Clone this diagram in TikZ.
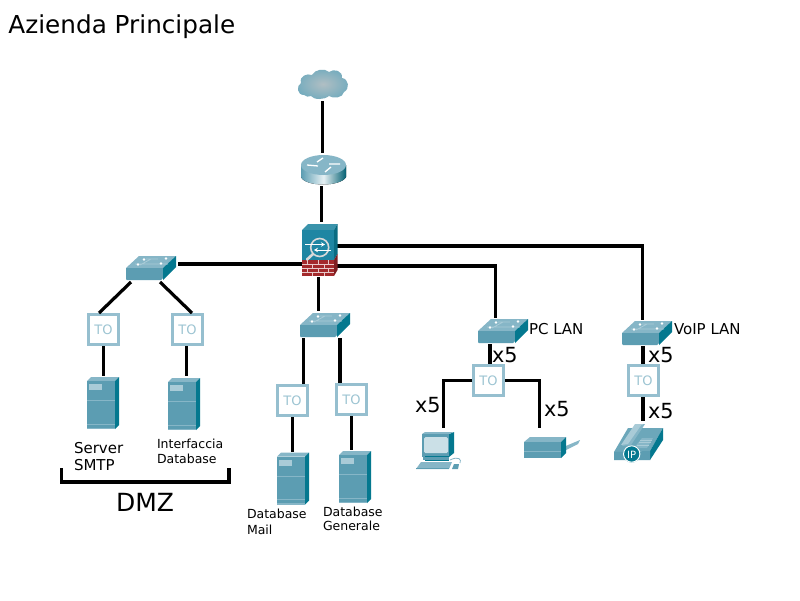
\documentclass[tikz,border=0pt]{standalone}
\usepackage{fontspec}
\setmainfont{DejaVu Sans}
\usetikzlibrary{arrows.meta}
\definecolor{tofr}{HTML}{96BFCF}
\definecolor{tofg}{HTML}{9CC4D2}
\definecolor{front}{HTML}{5C9DB2}
\definecolor{topc}{HTML}{86B6C7}
\definecolor{sidec}{HTML}{04788F}
\definecolor{lite}{HTML}{A9CBD7}
\definecolor{fwfront}{HTML}{1F86A3}
\definecolor{fwtop}{HTML}{3A93AB}
\definecolor{fwside}{HTML}{0A6C82}
\definecolor{brick}{HTML}{A32A2C}
\definecolor{brickd}{HTML}{7E1F22}
\tikzset{
  x=1pt,y=-1pt,
  wire/.style={line width=3.2pt,black},
  slot/.style={inner sep=0pt,outer sep=0pt,draw=none,minimum width=#1},
  tobox/.style={draw=tofr,line width=3pt,fill=white,minimum width=30pt,minimum height=30pt,inner sep=0pt,outer sep=1.5pt,text=tofg,font=\fontsize{13}{14}\selectfont},
  lab/.style={inner sep=0pt,outer sep=0pt,anchor=base west,text=black},
  small/.style={lab,font=\fontsize{12.5}{14}\selectfont},
  mid/.style={lab,font=\fontsize{15}{16}\selectfont},
  big/.style={lab,font=\fontsize{20.8}{22}\selectfont},
  switchicon/.pic={
    \fill[topc] (0,12) -- (13,0) -- (50,0) -- (37,12) -- cycle;
    \fill[front] (0,12) -- (37,12) -- (37,22) -- (35,24) -- (1,24) -- (0,23) -- cycle;
    \fill[sidec] (37,12) -- (50,0) -- (50,11) -- (37,24) -- cycle;
    \draw[lite,line width=.8pt] (9,8) -- (42,8) (20,3) -- (32,3) (14,9) -- (25,3);
    \fill[white] (18,3.5) circle (1.4) (40,2.5) circle (1.4) (12,8.5) circle (1.4) (35,7.5) circle (1.4);
  },
  servericon/.pic={
    \fill[topc] (0,4) -- (4,0) -- (32,0) -- (28,4) -- cycle;
    \fill[front] (0,4) rectangle (28,52);
    \fill[sidec] (28,4) -- (32,0) -- (32,48) -- (28,52) -- cycle;
    \fill[lite] (2,7) rectangle (15,13);
    \fill[topc] (0,23) rectangle (28,24.2);
    \fill[topc] (0,46.5) rectangle (28,47.5);
    \fill[topc] (0,50.5) rectangle (28,52);
  },
  pcicon/.pic={
    \fill[sidec] (33,2) -- (38,0) -- (38,21) -- (33,25) -- cycle;
    \fill[topc] (6,2) -- (9,0) -- (38,0) -- (33,2) -- cycle;
    \fill[front] (6,2) rectangle (33,25);
    \fill[fill=lite!60!white,rounded corners=1.5pt] (8,5) rectangle (32,21);
    \fill[sidec] (9,24) rectangle (33,29);
    \fill[front] (7,25) rectangle (33,28);
    \fill[topc] (0,37) -- (5,30) -- (36,30) -- (33,37) -- cycle;
    \fill[front] (0,36) rectangle (33,37);
    \draw[topc,line width=.8pt] (34,28) .. controls (42,24) and (46,27) .. (44,31);
    \fill[front] (36,37) -- (38,32) -- (43,32) -- (42,37) -- cycle;
  },
  deviceicon/.pic={
    \fill[topc] (37,11) -- (56,3) -- (54,7) -- (38,15) -- cycle;
    \fill[topc] (0,5) -- (6,0) -- (42,0) -- (37,5) -- cycle;
    \fill[front] (0,5) rectangle (37,21);
    \fill[topc] (0,14) rectangle (37,15);
    \fill[sidec] (37,5) -- (42,0) -- (42,16) -- (37,21) -- cycle;
  },
  phoneicon/.pic={
    \fill[front!90!white] (0,28) -- (14,4) -- (49,4) -- (36,27) -- cycle;
    \fill[sidec] (36,27) -- (49,4) -- (49,16) -- (36,36) -- cycle;
    \fill[front] (0,28) -- (36,27) -- (36,36) -- (0,36) -- cycle;
    \fill[topc] (8,22) -- (22,1) -- (31,0) -- (17,21) -- cycle;
    \fill[lite] (7,21) -- (21,0) -- (28,0) -- (14,20) -- cycle;
    \fill[topc] (20,24) -- (28,14) -- (39,14) -- (33,24) -- cycle;
    \draw[lite,line width=.4pt] (23,21) -- (35,21) (25,18) -- (37,18) (26,16) -- (38,16);
    \fill[sidec] (17.7,30) circle (8.6);
    \draw[white,line width=1pt] (17.7,30) circle (8.2);
    \node[inner sep=0pt,text=white,font=\fontsize{10}{10}\selectfont] (iptext) at (17.7,30.5) {IP};
  },
}
\begin{document}
\begin{tikzpicture}
\useasboundingbox (0,0) rectangle (800,600);
\fill[white] (0,0) rectangle (800,600);

% anchor slots for the devices
\node[slot=50pt,minimum height=30pt] (cloud) at (323,84) {};
\node[slot=45pt,minimum height=30pt] (router) at (323,170) {};
\node[slot=36pt,minimum height=52pt] (fw) at (320,250) {};
\node[slot=50pt,minimum height=24pt] (swa) at (151,268) {};
\node[slot=50pt,minimum height=24pt] (swb) at (325,325) {};
\node[slot=50pt,minimum height=24pt] (swc) at (503,331) {};
\node[slot=50pt,minimum height=24pt] (swd) at (647,333) {};
\node[slot=32pt,minimum height=52pt] (srva) at (103,403) {};
\node[slot=32pt,minimum height=52pt] (srvb) at (184,404) {};
\node[slot=32pt,minimum height=52pt] (srvc) at (293,478.5) {};
\node[slot=32pt,minimum height=52pt] (srvd) at (355,477) {};
\node[slot=45pt,minimum height=37pt] (pc) at (438.5,450.5) {};
\node[slot=56pt,minimum height=22pt] (dev) at (552,448) {};
\node[slot=49pt,minimum height=40pt] (phone) at (638.5,444) {};

\node[tobox] (toa) at (103.5,329.5) {TO};
\node[tobox] (tob) at (187.5,329.5) {TO};
\node[tobox] (toc) at (292.5,400.5) {TO};
\node[tobox] (tod) at (351.5,399.5) {TO};
\node[tobox] (toe) at (488.5,380.5) {TO};
\node[tobox] (tof) at (643.5,380.5) {TO};

% connectors
\draw[wire] ([yshift=-2pt]cloud.south -| 322.5,0) -- ([yshift=2pt]router.north -| 322.5,0);
\draw[wire] ([yshift=-1pt]router.south -| 321.5,0) -- ([yshift=2pt]fw.north -| 321.5,0);
\draw[wire] ([xshift=-1pt]fw.east |- 0,246) -| ([yshift=1pt]swd.north -| 642.5,0);
\draw[wire] ([xshift=-1pt]fw.east |- 0,266) -| ([yshift=1pt]swc.north -| 495.5,0);
\draw[wire] (fw.west |- 0,264) -- ([xshift=2pt]swa.east |- 0,264);
\draw[wire] ([yshift=-1pt]fw.south -| 318.5,0) -- ([yshift=2pt]swb.north -| 318.5,0);
\draw[wire] (131,282) -- (toa.north -| 99,0);
\draw[wire] (160,282) -- (tob.north -| 192,0);
\draw[wire] (toa.south -| 103.5,0) -- ([yshift=1pt]srva.north -| 103.5,0);
\draw[wire] (tob.south -| 186.5,0) -- ([yshift=2pt]srvb.north -| 186.5,0);
\draw[wire] ([yshift=-1pt]swb.south -| 303.5,0) -- (toc.north -| 303.5,0);
\draw[wire] ([yshift=-1pt]swb.south -| 340,0) -- (tod.north -| 340,0);
\draw[wire] (toc.south -| 292.5,0) -- ([yshift=1pt]srvc.north -| 292.5,0);
\draw[wire] (tod.south -| 351.5,0) -- ([yshift=1pt]srvd.north -| 351.5,0);
\draw[wire] ([yshift=-1pt]swc.south -| 490,0) -- (toe.north -| 490,0);
\draw[wire] (toe.west) -| ([yshift=4pt]pc.north -| 443.5,0);
\draw[wire] (toe.east) -| ([yshift=9pt]dev.north -| 539.5,0);
\draw[wire] ([yshift=-1pt]swd.south -| 643,0) -- (tof.north -| 643,0);
\draw[wire] (tof.south -| 643,0) -- ([yshift=3pt]phone.north -| 643,0);

% icons
\pic at (298,69) {code={
  \shade[inner color=gray!45!lite!75!white,outer color=front!85!white]
   (6,26) .. controls (-1,26) and (-2,17) .. (3,14)
   .. controls (1,7) and (9,4) .. (14,6)
   .. controls (17,0) and (27,-1) .. (31,3)
   .. controls (36,-1) and (45,2) .. (44,9)
   .. controls (51,10) and (52,20) .. (46,23)
   .. controls (45,29) and (35,30) .. (31,27)
   .. controls (26,31) and (16,31) .. (13,27)
   .. controls (11,28) and (8,28) .. (6,26) -- cycle;
}};
\pic at (301,155) {code={
  \fill[left color=front,right color=sidec!80!black,middle color=white!85!front]
    (0,10) -- (0,22) .. controls (4,32) and (40,32) .. (45,22) -- (45,10) -- cycle;
  \fill[topc] (22.5,10) ellipse [x radius=22.5, y radius=10];
  \draw[white,line width=1.3pt] (6,10) -- (17,11) (39,9) -- (28,9) (22,3) -- (16,7) (24,17) -- (30,12);
}};
\pic at (302,224) {code={
  \fill[fwtop] (0,6) -- (6,0) -- (35.5,0) -- (32,6) -- cycle;
  \fill[fwfront] (0,6) rectangle (32,36);
  \fill[fwside] (32,6) -- (35.5,0) -- (35.5,30) -- (32,36) -- cycle;
  \fill[brick] (0,36) rectangle (32,52);
  \fill[brickd] (32,36) -- (35.5,30) -- (35.5,46) -- (32,52) -- cycle;
  \draw[white!75!brick,line width=.6pt] (0,40) -- (32,40) (0,44) -- (32,44) (0,48) -- (32,48)
    (5,36) -- (5,40) (16,36) -- (16,40) (26,36) -- (26,40)
    (10,40) -- (10,44) (22,40) -- (22,44)
    (5,44) -- (5,48) (16,44) -- (16,48) (26,44) -- (26,48)
    (10,48) -- (10,52) (22,48) -- (22,52);
  \draw[gray!30!white,line width=2.6pt,line cap=round] (11,30) -- (5,35.5);
  \draw[gray!30!white,line width=1.6pt] (17.7,23.5) circle (9);
  \draw[white,line width=1pt,-{Stealth[length=4pt,width=4.5pt]}] (3,20.5) -- (23,20.5);
  \draw[white,line width=1pt,-{Stealth[length=4pt,width=4.5pt]}] (29,26) -- (12,26);
}};
\pic at (126,256) {switchicon};
\pic at (300,313) {switchicon};
\pic at (478,319) {switchicon};
\pic at (622,321) {switchicon};
\pic at (87,377) {servericon};
\pic at (168,378) {servericon};
\pic at (277,452.5) {servericon};
\pic at (339,451) {servericon};
\pic at (416,432) {pcicon};
\pic at (524,437) {deviceicon};
\pic at (614,424) {phoneicon};

% DMZ bracket
\coordinate (dmzl) at (61.5,468);
\coordinate (dmzr) at (229,468);
\draw[wire] (dmzl) -- (dmzl |- 0,482) -- (dmzr |- 0,482) -- (dmzr);

% labels
\node[lab,font=\fontsize{24.7}{26}\selectfont] (title) at (8.5,33) {Azienda Principale};
\node[lab,font=\fontsize{25}{28}\selectfont] (dmz) at (116,511) {DMZ};
\node[mid] (ta) at (74,453) {Server};
\node[mid] (tb) at (74,470) {SMTP};
\node[small] (tc) at (157,448) {Interfaccia};
\node[small] (td) at (157,463) {Database};
\node[small] (te) at (247,518) {Database};
\node[small] (tf) at (247,534) {Mail};
\node[small] (tg) at (323,516) {Database};
\node[small] (th) at (323,530) {Generale};
\node[mid] (ti) at (529,334) {PC LAN};
\node[mid] (tj) at (674,334) {VoIP LAN};
\node[big] (xa) at (492,362) {x5};
\node[big] (xb) at (648,362) {x5};
\node[big] (xc) at (648,418) {x5};
\node[big] (xd) at (415,412) {x5};
\node[big] (xe) at (544,416) {x5};
\end{tikzpicture}
\end{document}
